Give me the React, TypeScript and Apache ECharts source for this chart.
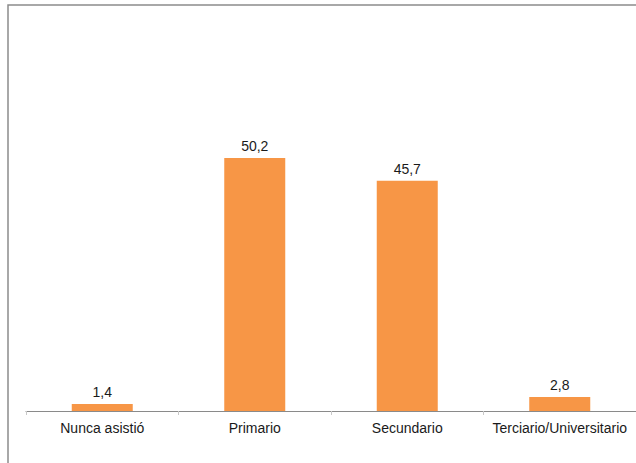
import React, { useEffect, useRef } from "react";
import * as echarts from "echarts";

const categories = ["Nunca asistió", "Primario", "Secundario", "Terciario/Universitario"];
const values = [1.4, 50.2, 45.7, 2.8];

export default function App() {
  const ref = useRef<HTMLDivElement>(null);

  useEffect(() => {
    if (!ref.current) return;
    const chart = echarts.init(ref.current, undefined, { renderer: "svg" });
    chart.setOption({
      animation: false,
      textStyle: { fontFamily: "'Liberation Sans', Arial, sans-serif" },
      graphic: [
        {
          type: "rect",
          shape: { x: 8, y: 5, width: 700, height: 600 },
          style: { fill: "none", stroke: "#8c8c8c", lineWidth: 1.5 },
          silent: true,
        },
      ],
      grid: { left: 26, right: -1, top: 108.6, bottom: 52, containLabel: false },
      xAxis: {
        type: "category",
        data: categories,
        axisLine: { lineStyle: { color: "#8a8a8a", width: 1 } },
        axisTick: { show: true, length: 4, lineStyle: { color: "#c8c8c8" } },
        axisLabel: { color: "#1a1a1a", fontSize: 14, margin: 10, interval: 0 },
      },
      yAxis: {
        type: "value",
        min: 0,
        max: 60,
        show: false,
        splitLine: { show: false },
      },
      series: [
        {
          type: "bar",
          data: values,
          barWidth: "40%",
          itemStyle: { color: "#F79646" },
          label: {
            show: true,
            position: "top",
            distance: 5,
            color: "#1a1a1a",
            fontSize: 14,
            formatter: (p: any) => String(p.value).replace(".", ","),
          },
        },
      ],
    });
    return () => chart.dispose();
  }, []);

  return (
    <div
      ref={ref}
      style={{ position: "absolute", left: 0, top: 0, width: 636, height: 463, background: "#fff" }}
    />
  );
}
